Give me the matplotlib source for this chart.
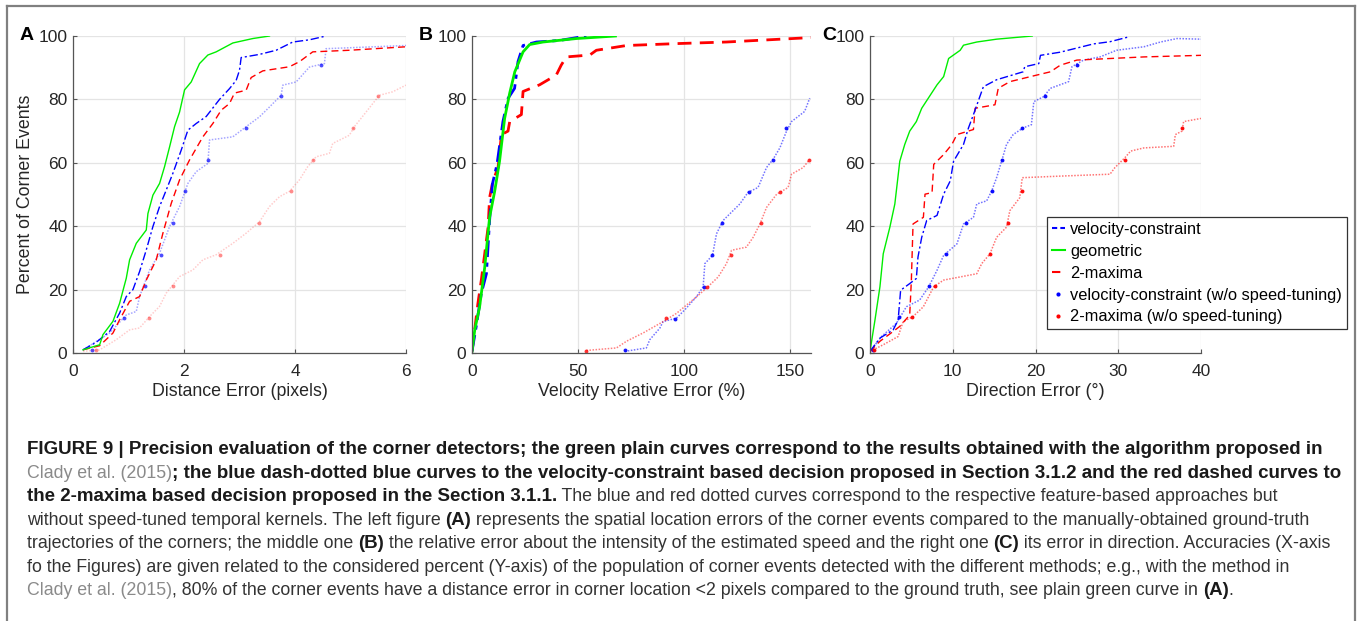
import matplotlib
matplotlib.use("Agg")
import matplotlib.pyplot as plt
from matplotlib.lines import Line2D
from matplotlib.transforms import IdentityTransform

plt.rcParams["font.family"] = ["Liberation Sans", "DejaVu Sans"]

# ---------------- colours ----------------
BLUE, GREEN, RED = "#0000ff", "#00ee00", "#ff0000"
AXC = "#262626"
GRID = "#e4e4e4"

# ---------------- data: panel A (distance error, pixels) ----------------
a_vel_x = [0.18, 0.42, 0.66, 0.84, 0.96, 1.08, 1.2, 1.32, 1.44, 1.56, 1.68, 1.8, 1.95, 2.07, 2.22, 2.4,
           2.64, 2.82, 2.94, 3.0, 3.03, 3.36, 3.66, 3.96, 4.26, 4.56]
a_vel_y = [1, 3.4, 6.8, 12.6, 17.8, 20, 25.7, 32.5, 39.9, 46.2, 51.4, 56.7, 64, 70.3, 72.4, 74.6,
           80, 83.4, 86, 89.2, 93.2, 94.2, 95.5, 98.1, 98.8, 100]
a_geo_x = [0.18, 0.48, 0.54, 0.72, 0.84, 0.96, 1.02, 1.14, 1.23, 1.32, 1.35, 1.44, 1.56, 1.65, 1.74,
           1.83, 1.92, 2.01, 2.13, 2.28, 2.43, 2.58, 2.88, 3.24, 3.54]
a_geo_y = [1, 2.6, 5.8, 10, 15.7, 23.6, 29.4, 34.6, 36.7, 38.8, 44, 49.8, 53.5, 58.8, 65,
           71.4, 76, 83, 85.5, 91.3, 94, 95, 97.8, 99.2, 100]
a_max_x = [0.18, 0.48, 0.72, 0.84, 1.02, 1.2, 1.32, 1.5, 1.62, 1.77, 1.92, 2.1, 2.34, 2.52, 2.67,
           2.82, 2.91, 3.12, 3.21, 3.42, 3.9, 4.08, 4.32, 4.98, 6.0]
a_max_y = [1, 2.3, 6.3, 10.5, 16.3, 17.8, 23, 29.4, 37.8, 47.2, 54.6, 60.9, 68.2, 72.4, 76.6,
           78.7, 82, 82.9, 86.9, 89, 90.3, 91.9, 95, 95.5, 96.6]
a_velns_x = [0.18, 0.66, 0.96, 1.14, 1.2, 1.38, 1.56, 1.74, 1.92, 2.07, 2.22, 2.43, 2.46, 2.88, 3.12,
             3.36, 3.54, 3.75, 3.78, 4.02, 4.26, 4.53, 4.56, 6.0]
a_velns_y = [1, 6.3, 12, 13.1, 17.8, 26.2, 31.5, 39.9, 46.2, 53.5, 57.2, 59.8, 67.2, 68.2, 71.4,
             74.5, 77.6, 81.3, 84.5, 85.5, 90.2, 91.3, 96, 97]
a_velns_mx = [0.35, 0.92, 1.29, 1.58, 1.8, 2.02, 2.44, 3.11, 3.74, 4.47]
a_velns_my = [1, 11, 21, 31, 41, 51, 61, 71, 81, 91]
a_maxns_x = [0.18, 0.48, 0.78, 1.02, 1.2, 1.38, 1.56, 1.68, 1.92, 2.16, 2.34, 2.58, 2.88, 3.12, 3.36,
             3.54, 3.72, 3.9, 4.08, 4.23, 4.38, 4.62, 4.68, 4.98, 5.07, 5.28, 5.52, 5.76, 6.0]
a_maxns_y = [0.5, 1, 4.2, 7.3, 7.9, 11.5, 14.7, 18.9, 24.1, 26.2, 29.4, 31, 34.6, 37.8, 41.4,
             46.2, 49.3, 51, 54.6, 58.8, 61.9, 63, 66.1, 68.7, 71.4, 76, 81.3, 82.4, 84.5]
a_maxns_mx = [0.42, 1.37, 1.81, 2.65, 3.35, 3.92, 4.33, 5.04, 5.49]
a_maxns_my = [1, 11, 21, 31, 41, 51, 61, 71, 81]

# ---------------- data: panel B (velocity relative error, %) ----------------
b_vel_x = [0, 2, 4.4, 6.8, 8.3, 9.6, 11.8, 14.6, 17, 20.1, 21.7, 24.1, 30.4, 41.4, 54]
b_vel_y = [0.5, 8.4, 18.8, 25, 41.8, 53.2, 59.5, 73, 80.3, 83.5, 91.9, 97, 98.1, 98.6, 100]
b_geo_x = [0, 1.3, 3.6, 6, 8.3, 10.7, 13, 15.4, 17.8, 20.2, 24.1, 27.2, 33.5, 49.3, 67.7]
b_geo_y = [0.5, 7.3, 14.6, 27, 42.8, 51, 60.5, 74, 82, 88.7, 95, 97.3, 98.1, 99.2, 100]
b_max_x = [0, 2.8, 4.4, 6, 7.6, 8.3, 9.9, 12.3, 13.9, 17, 17.8, 23.3, 24.1, 31.9, 39.8, 42.1,
           44.5, 55.6, 58.7, 72.9, 96.5, 120, 160]
b_max_y = [0.5, 15.7, 23, 31.3, 39.7, 49, 54.3, 58.5, 68.9, 70, 73, 75.2, 82.5, 84.6, 87.7, 90.8,
           93.4, 94, 95.5, 97, 97.6, 98.1, 99.5]
b_velns_x = [72.1, 82.3, 83.9, 88.6, 90.2, 96.5, 100.4, 105.9, 109.1, 109.9, 113.5, 115.4, 118.5,
             126.4, 130.3, 135, 139, 142.1, 145.3, 148.4, 150.8, 157, 159.4]
b_velns_y = [0.5, 1.6, 4.2, 7.8, 9.9, 11, 13.6, 17.7, 20.9, 28.2, 30.8, 37.6, 41.8,
             47, 50.7, 52.2, 58.5, 61.1, 64.7, 69.9, 73, 76.2, 80.4]
b_velns_mx = [72.1, 95.9, 109.4, 113.5, 118, 130.6, 142.1, 148.1]
b_velns_my = [1, 10.8, 20.9, 30.8, 40.9, 50.9, 61, 71]
b_maxns_x = [54, 68.2, 72.9, 80.7, 90.2, 96.5, 101.2, 105.9, 110.6, 116.2, 120.1, 122.5, 129.5,
             132.7, 135.9, 139, 143.8, 149.2, 150.8, 156.3, 159.4]
b_maxns_y = [0.8, 1.6, 3.7, 6.3, 9.9, 12.5, 15.1, 17.7, 20.4, 24, 28.2, 32.4, 33.4,
             36.5, 40.7, 45.9, 50.1, 52.2, 56.4, 58.5, 61.1]
b_maxns_mx = [54, 91.5, 111, 122.1, 136.2, 145.3, 159]
b_maxns_my = [0.7, 10.9, 20.9, 30.8, 40.9, 50.9, 61]

# ---------------- data: panel C (direction error, deg) ----------------
c_vel_x = [0, 1.2, 2.8, 3.4, 3.7, 4.8, 5.6, 5.8, 6.25, 6.85, 8.1, 8.9, 9.7, 10.1, 11.3, 11.9, 12.5,
           13.7, 15.3, 18.5, 18.7, 20.4, 20.6, 23, 27, 29, 31.25]
c_vel_y = [0.5, 4.7, 7.3, 10.4, 19.8, 21.9, 23.5, 30.3, 36.5, 41.8, 43.4, 50.1, 54.3, 60.5, 65.8, 71,
           75.2, 84, 86.2, 88.7, 90.3, 91.3, 93.9, 94.9, 97.5, 98.2, 99.7]
c_geo_x = [0, 0.6, 1.2, 1.6, 2.4, 3, 3.6, 4.2, 4.8, 5.6, 6.25, 7.3, 8.1, 8.9, 9.5, 10.9, 11.3,
           12.9, 15.3, 19.6]
c_geo_y = [0.5, 10.4, 20.9, 31.3, 39.7, 47, 60.5, 65.8, 70, 73, 77.2, 81.4, 84.6, 87.2, 92.9, 95.5,
           97.1, 98.1, 99, 100]
c_max_x = [0, 1.2, 2.8, 3.6, 4.8, 5, 5.2, 6.45, 6.65, 7.5, 7.7, 8.9, 9.9, 10.5, 12.5, 12.7, 15.1,
           15.5, 16.9, 20.2, 21.8, 23, 25, 29, 33.1, 40]
c_max_y = [0.5, 3.7, 6.8, 8.4, 12, 23, 40.7, 42.8, 50.1, 50.6, 59.5, 62.6, 65.8, 68.9, 70.5, 77.2,
           78.3, 83.5, 85.6, 87.7, 88.7, 90.8, 92.4, 92.9, 93.4, 93.9]
c_velns_x = [0, 1.4, 3.2, 4.4, 6, 7.1, 8.1, 8.9, 10.5, 11.3, 12.5, 12.9, 14.1, 14.7, 15.3, 15.9,
             16.5, 17.3, 18.5, 19.5, 19.8, 21, 21.8, 24, 24.4, 25.8, 27.8, 29.8, 33.1, 35.1, 37.1, 40]
c_velns_y = [0.5, 5.2, 9.4, 14.6, 16.7, 20.9, 26.1, 30.8, 34.4, 40.7, 42.8, 47, 48, 51.1, 55.3, 60.5,
             65.8, 68.9, 71, 72, 79.3, 80.9, 83.5, 85.6, 90.3, 92.4, 93.4, 95.5, 96.6, 98.1, 99.2, 99]
c_velns_mx = [0.4, 3.5, 7.1, 9.2, 11.6, 14.8, 15.9, 18.4, 21.1, 25]
c_velns_my = [1, 11.2, 21.2, 31.1, 41, 51, 61, 71, 81, 91]
c_maxns_x = [0, 1.6, 3.4, 4, 5.2, 6.45, 7.7, 8.9, 10.9, 12.9, 13.5, 14.5, 15.3, 16.5, 16.9, 18.1,
             18.4, 23, 29, 29.6, 30.8, 31.5, 33.1, 36.7, 36.9, 37.7, 37.9, 40]
c_maxns_y = [0.5, 2.6, 5.2, 9.9, 11.5, 14.6, 20.9, 23, 24, 25, 28.2, 31.3, 36.5, 39.7, 44.9, 49,
             55.3, 55.8, 56.4, 58.5, 61.6, 63.7, 64.7, 65.2, 68.9, 70, 73, 74]
c_maxns_mx = [0.5, 5.1, 7.9, 14.5, 16.7, 18.4, 30.8, 37.7]
c_maxns_my = [1, 11.2, 21.2, 31.1, 41, 51, 61, 71]

labels = ["velocity-constraint", "geometric", "2-maxima",
          "velocity-constraint (w/o speed-tuning)", "2-maxima (w/o speed-tuning)"]

# ---------------- figure ----------------
W, H = 1360, 621
fig = plt.figure(figsize=(W / 100, H / 100), dpi=100, facecolor="white")

def px_axes(x0, x1, ytop, ybot):
    return fig.add_axes([x0 / W, 1 - ybot / H, (x1 - x0) / W, (ybot - ytop) / H])

DASHDOT = (0, (6, 2, 1.5, 2))

def panel(ax, data, xmax, xticks, xlabel, lw, dot_alpha):
    (vx, vy), (gx, gy), (mx, my), (nvx, nvy, nvmx, nvmy), (nmx, nmy, nmmx, nmmy) = data
    ax.plot(nvx, nvy, color=BLUE, lw=1.1, ls=(0, (1, 1)), alpha=dot_alpha[0])
    ax.plot(nvmx, nvmy, "o", color=BLUE, ms=2.8, alpha=dot_alpha[1], mec="none")
    ax.plot(nmx, nmy, color=RED, lw=1.1, ls=(0, (1, 1)), alpha=dot_alpha[2])
    ax.plot(nmmx, nmmy, "o", color=RED, ms=2.8, alpha=dot_alpha[3], mec="none")
    ax.plot(mx, my, color=RED, lw=lw, ls=(0, (5, 3)))
    ax.plot(vx, vy, color=BLUE, lw=lw, ls=DASHDOT)
    ax.plot(gx, gy, color=GREEN, lw=lw)
    ax.set_xlim(0, xmax)
    ax.set_ylim(0, 100)
    ax.set_xticks(xticks)
    ax.set_yticks([0, 20, 40, 60, 80, 100])
    ax.grid(True, color=GRID, lw=0.9)
    ax.set_axisbelow(True)
    for s in ("top", "right"):
        ax.spines[s].set_visible(False)
    for s in ("left", "bottom"):
        ax.spines[s].set_color("#555555")
        ax.spines[s].set_linewidth(0.9)
    ax.tick_params(direction="in", length=3, color="#555555", labelcolor=AXC, labelsize=12.5)
    ax.tick_params(axis="x", pad=8)
    ax.tick_params(axis="y", pad=4)
    ax.set_xlabel(xlabel, fontsize=12.8, color=AXC, labelpad=3)

axA = px_axes(73, 406, 36, 353)
panel(axA, [(a_vel_x, a_vel_y), (a_geo_x, a_geo_y), (a_max_x, a_max_y),
            (a_velns_x, a_velns_y, a_velns_mx, a_velns_my),
            (a_maxns_x, a_maxns_y, a_maxns_mx, a_maxns_my)],
      6, [0, 2, 4, 6], "Distance Error (pixels)", 1.0, (0.35, 0.7, 0.2, 0.45))
axA.set_ylabel("Percent of Corner Events", fontsize=12.8, color=AXC, labelpad=3)

axB = px_axes(472, 811, 36, 353)
panel(axB, [(b_vel_x, b_vel_y), (b_geo_x, b_geo_y), (b_max_x, b_max_y),
            (b_velns_x, b_velns_y, b_velns_mx, b_velns_my),
            (b_maxns_x, b_maxns_y, b_maxns_mx, b_maxns_my)],
      160, [0, 50, 100, 150], "Velocity Relative Error (%)", 2.0, (0.55, 0.9, 0.5, 0.8))

axC = px_axes(870, 1201, 36, 353)
panel(axC, [(c_vel_x, c_vel_y), (c_geo_x, c_geo_y), (c_max_x, c_max_y),
            (c_velns_x, c_velns_y, c_velns_mx, c_velns_my),
            (c_maxns_x, c_maxns_y, c_maxns_mx, c_maxns_my)],
      40, [0, 10, 20, 30, 40], "Direction Error (°)", 1.0, (0.55, 0.95, 0.55, 0.95))

# panel letters
for lx, letter in [(20, "A"), (419, "B"), (822, "C")]:
    fig.text(lx / W, 1 - 40 / H, letter, fontsize=14, fontweight="bold", color="black",
             ha="left", va="baseline")

# legend (sits over panel C and runs past its right edge)
handles = [Line2D([], [], color=BLUE, lw=1.5, ls=(0, (2.5, 1.5))),
           Line2D([], [], color=GREEN, lw=1.5),
           Line2D([], [], color=RED, lw=1.5, ls=(0, (4, 20))),
           Line2D([], [], color=BLUE, ls="none", marker="o", ms=3, mec="none"),
           Line2D([], [], color=RED, ls="none", marker="o", ms=3, mec="none")]
leg = fig.legend(handles, labels, loc="upper left", bbox_to_anchor=(1047 / W, 1 - 217 / H),
                 fontsize=11.8, frameon=True, fancybox=False, framealpha=1,
                 handlelength=0.8, handletextpad=0.3, borderpad=0.3, labelspacing=0.42,
                 borderaxespad=0)
leg.get_frame().set_edgecolor("#333333")
leg.get_frame().set_linewidth(0.9)

# outer page frame
for xs, ys in [([7, 1355], [6, 6]), ([7, 7], [6, 621]), ([1355, 1355], [6, 621])]:
    fig.add_artist(Line2D([x / W for x in xs], [1 - y / H for y in ys],
                          color="#808080", lw=1.6, transform=fig.transFigure))

# ---------------- caption ----------------
GRAYTXT = "#8a8a8a"
BODY = "#333333"
DARK = "#1a1a1a"
caption = [
    [("FIGURE 9 | Precision evaluation of the corner detectors; the green plain curves correspond to "
      "the results obtained with the algorithm proposed in", "bold", DARK)],
    [("Clady et al. (2015)", "normal", GRAYTXT),
     ("; the blue dash-dotted blue curves to the velocity-constraint based decision proposed in "
      "Section 3.1.2 and the red dashed curves to", "bold", DARK)],
    [("the 2-maxima based decision proposed in the Section 3.1.1.", "bold", DARK),
     (" The blue and red dotted curves correspond to the respective feature-based approaches but",
      "normal", BODY)],
    [("without speed-tuned temporal kernels. The left figure ", "normal", BODY),
     ("(A)", "bold", DARK),
     (" represents the spatial location errors of the corner events compared to the "
      "manually-obtained ground-truth", "normal", BODY)],
    [("trajectories of the corners; the middle one ", "normal", BODY),
     ("(B)", "bold", DARK),
     (" the relative error about the intensity of the estimated speed and the right one ",
      "normal", BODY),
     ("(C)", "bold", DARK),
     (" its error in direction. Accuracies (X-axis", "normal", BODY)],
    [("fo the Figures) are given related to the considered percent (Y-axis) of the population of "
      "corner events detected with the different methods; e.g., with the method in", "normal", BODY)],
    [("Clady et al. (2015)", "normal", GRAYTXT),
     (", 80% of the corner events have a distance error in corner location <2 pixels compared to "
      "the ground truth, see plain green curve in ", "normal", BODY),
     ("(A)", "bold", DARK),
     (".", "normal", BODY)],
]
baselines = [454, 478, 501, 525, 548, 572, 595]

renderer = fig.canvas.get_renderer()
CAP_FAMILY = ["Liberation Sans Narrow", "Liberation Sans"]
X0 = 27

def draw_line(parts, yb, sizes):
    x = X0
    arts = []
    for txt, weight, color in parts:
        t = fig.text(x, H - yb, txt, fontsize=sizes[weight], fontweight=weight, color=color,
                     family=CAP_FAMILY, ha="left", va="baseline", transform=IdentityTransform())
        x = t.get_window_extent(renderer).x1
        arts.append(t)
    return arts, x

def fit(parts, xend):
    arts, x = draw_line(parts, 0, {"bold": 12, "normal": 12})
    for a in arts:
        a.remove()
    return 12 * (xend - X0) / (x - X0)

# bold size from the all-bold first line, regular size from the all-regular sixth line
sizes = {"bold": fit(caption[0], 1320), "normal": fit(caption[5], 1291)}

for line, yb in zip(caption, baselines):
    draw_line(line, yb, sizes)

fig.savefig("out.png", dpi=100, facecolor="white")
